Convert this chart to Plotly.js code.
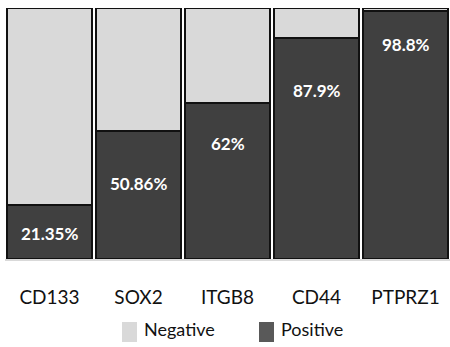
<!DOCTYPE html>
<html>
<head>
<meta charset="utf-8">
<script src="https://cdn.plot.ly/plotly-3.0.1.min.js"></script>
<style>
  html, body { margin: 0; padding: 0; background: #fff; }
  #chart { width: 450px; height: 347px; }
</style>
</head>
<body>
<div id="chart"></div>
<script>
// Marker expression per gene (% of cells)
const genes = ['CD133', 'SOX2', 'ITGB8', 'CD44', 'PTPRZ1'];
const positive = [21.35, 50.86, 62, 87.9, 98.8];
const negative = positive.map(v => +(100 - v).toFixed(2));
const valueLabels = ['21.35%', '50.86%', '62%', '87.9%', '98.8%'];
const seriesNames = ['Negative', 'Positive'];

const DARK = '#404040';
const LIGHT = '#d9d9d9';
const EDGE = '#111111';
const FONT = 'Lato, "Open Sans", sans-serif';

// how far below the top of each dark segment its label sits (axis units)
const labelDrop = [11.2, 20.8, 16.0, 20.8, 13.4];

const traces = [
  {
    type: 'bar', name: seriesNames[1], x: genes, y: positive,
    marker: { color: DARK, line: { color: EDGE, width: 2 } },
    hoverinfo: 'x+y', showlegend: false
  },
  {
    type: 'bar', name: seriesNames[0], x: genes, y: negative,
    marker: { color: LIGHT, line: { color: EDGE, width: 2 } },
    hoverinfo: 'x+y', showlegend: false
  }
];

const annotations = genes.map((g, i) => ({
  x: g, y: positive[i] - labelDrop[i], xref: 'x', yref: 'y',
  text: '<b>' + valueLabels[i] + '</b>', showarrow: false,
  font: { family: FONT, size: 17, color: '#ffffff' }
}));

// legend drawn as swatches plus text below the plot
const legendItems = [
  { name: seriesNames[0], color: LIGHT, x0: 122, tx: 142 },
  { name: seriesNames[1], color: '#595959', x0: 259, tx: 279 }
];
const shapes = [];
legendItems.forEach(it => {
  shapes.push({
    type: 'rect', xref: 'paper', yref: 'paper',
    x0: (it.x0 - 5) / 445, x1: (it.x0 + 15 - 5) / 445,
    y0: -(322 - 259) / 251, y1: -(342 - 259) / 251,
    fillcolor: it.color, line: { width: 0 }
  });
  annotations.push({
    xref: 'paper', yref: 'paper', x: (it.tx - 5) / 445, y: -(329 - 259) / 251,
    xanchor: 'left', yanchor: 'middle', showarrow: false, text: it.name,
    font: { family: FONT, size: 18, color: '#111111' }
  });
});

const layout = {
  width: 450, height: 347,
  margin: { l: 5, r: 0, t: 8, b: 88 },
  barmode: 'stack', bargap: 0.045,
  paper_bgcolor: '#ffffff', plot_bgcolor: '#ffffff',
  showlegend: false,
  xaxis: {
    showline: true, linecolor: '#d9d9d9', linewidth: 2,
    showgrid: false, zeroline: false, ticks: '',
    ticklabelstandoff: 20,
    tickfont: { family: FONT, size: 19, color: '#111111' }
  },
  yaxis: {
    range: [0, 100], visible: false, showgrid: false, zeroline: false
  },
  annotations: annotations,
  shapes: shapes
};

Plotly.newPlot('chart', traces, layout, { displayModeBar: false, staticPlot: true });
</script>
</body>
</html>
